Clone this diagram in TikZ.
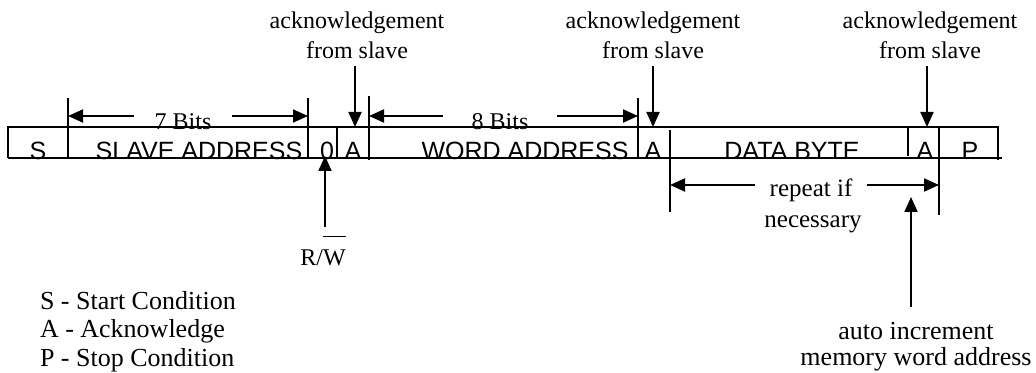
\documentclass[tikz,border=0pt]{standalone}
\usepackage{fontspec}
\setmainfont{Liberation Serif}
\newfontfamily\arialfont{Liberation Sans}
\usepackage{tikz}
\usetikzlibrary{arrows.meta, positioning}
\tikzset{
>={Triangle[length=7.5pt,width=6.5pt]}, % filled arrow heads
every node/.style={font=\fontsize{12}{15}\selectfont}, % serif labels
note/.style={font=\fontsize{13}{13}\selectfont}, % the slightly larger notes at the bottom
field/.style={font=\arialfont\fontsize{12.5}{15}\selectfont, anchor=base, inner sep=0pt}, % text inside the frame
dim/.style={inner xsep=10pt}, % labels sitting between two arrows
}

\begin{document}
\begin{tikzpicture}[x=0.5pt, y=-0.5pt, line width=1pt]
        \useasboundingbox (0,0) rectangle (1036,373);
        %Frame
        \draw (8,158) -- (8,127) -- (998,127) -- (998,160);
        \draw (8,158) -- (1002,158);
        \draw (68,98) -- (68,158);
        \draw (308,98) -- (308,158);
        \draw (337,127) -- (337,158);
        \draw (369,96) -- (369,160);
        \draw (638,98) -- (638,158);
        \draw (670,130) -- (670,212);
        \draw (908,127) -- (908,156);
        \draw (939,127) -- (939,215);
        %Fields
        \node[field] (s) at (38,160) {S};
        \node[field] (slave) at (199,160) {SLAVE ADDRESS};
        \node[field] (zero) at (327,160) {0};
        \node[field] (a1) at (353,160) {A};
        \node[field] (word) at (525,160) {WORD ADDRESS};
        \node[field] (a2) at (653,160) {A};
        \node[field] (data) at (792,160) {DATA BYTE};
        \node[field] (a3) at (925,160) {A};
        \node[field] (p) at (970,160) {P};
        %Bit counts
        \node[dim] (bits7) at (183,122) {7 Bits};
        \node[dim, inner xsep=14pt] (bits8) at (500,122) {8 Bits};
        \node[dim, inner xsep=7pt, anchor=base, font=\fontsize{12.5}{13}\selectfont] (rep) at (811,197) {repeat if};
        \node[anchor=base, font=\fontsize{12.5}{13}\selectfont] (nec) at (813,228) {necessary};
        \coordinate (d7l) at (68,116);
        \coordinate (d7r) at (308,116);
        \coordinate (d8l) at (369,116);
        \coordinate (d8r) at (638,116);
        \coordinate (rl) at (670,185);
        \coordinate (rr) at (939,185);
        \draw[->] (bits7.west |- d7l) -- (d7l);
        \draw[->] (bits7.east |- d7r) -- (d7r);
        \draw[->] (bits8.west |- d8l) -- (d8l);
        \draw[->] (bits8.east |- d8r) -- (d8r);
        \draw[->] (rep.west |- rl) -- (rl);
        \draw[->] (rep.east |- rr) -- (rr);
        %Acknowledge arrows
        \node[align=center] (ack1) at (357,35) {acknowledgement\\from slave};
        \node[align=center] (ack2) at (653,35) {acknowledgement\\from slave};
        \node[align=center] (ack3) at (930,35) {acknowledgement\\from slave};
        \coordinate (t1) at (355,127);
        \coordinate (t2) at (653,127);
        \coordinate (t3) at (927,127);
        \draw[->] (ack1.south -| t1) -- (t1);
        \draw[->] (ack2.south -| t2) -- (t2);
        \draw[->] (ack3.south -| t3) -- (t3);
        %Read/write bit
        \node[anchor=base] (rw) at (323,265) {R/$\overline{\mbox{W\rule{0pt}{13pt}}}$};
        \coordinate (rwtip) at (325,156);
        \draw[->] (rw.north -| rwtip) -- (rwtip);
        %Auto increment
        \node[note, align=center, inner ysep=7.5pt] (auto) at (916,347) {auto increment\\memory word address};
        \coordinate (inc) at (911,197);
        \draw[->] (auto.north -| inc) -- (inc);
        %Legend
        \node[align=left, anchor=north west, inner sep=0pt, font=\fontsize{13}{14.25}\selectfont] (legend) at (39,290) {S - Start Condition\\A - Acknowledge\\P - Stop Condition};
\end{tikzpicture}
\end{document}
